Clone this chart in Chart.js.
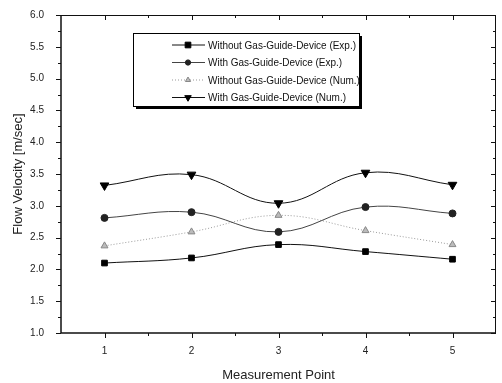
<!DOCTYPE html>
<html>
<head>
<meta charset="utf-8">
<script src="https://cdn.jsdelivr.net/npm/chart.js@4.4.1/dist/chart.umd.min.js"></script>
<style>
  html, body { margin: 0; padding: 0; background: #fff; }
  #wrap { width: 502px; height: 383px; position: relative; }
</style>
</head>
<body>
<div id="wrap"><canvas id="flow-chart" width="502" height="383"></canvas></div>
<script>
// --- data ---
const measurementPoints = [1, 2, 3, 4, 5];
const withoutGuideExp = [2.10, 2.18, 2.39, 2.28, 2.16];
const withGuideExp = [2.81, 2.90, 2.59, 2.98, 2.88];
const withoutGuideNum = [2.37, 2.59, 2.85, 2.61, 2.39];
const withGuideNum = [3.32, 3.49, 3.04, 3.52, 3.33];
const seriesLabels = [
  'Without Gas-Guide-Device (Exp.)',
  'With Gas-Guide-Device (Exp.)',
  'Without Gas-Guide-Device (Num.)',
  'With Gas-Guide-Device (Num.)'
];
const yTickLabels = ['1.0', '1.5', '2.0', '2.5', '3.0', '3.5', '4.0', '4.5', '5.0', '5.5', '6.0'];

const FONT = 'Liberation Sans, Arial, sans-serif';
const toPoints = vals => vals.map((v, i) => ({ x: measurementPoints[i], y: v }));

// frame + ticks in the Origin style (ticks in/out, minor ticks)
const frameTicks = {
  id: 'frameTicks',
  afterDraw(chart) {
    const ctx = chart.ctx;
    const { left, right, top, bottom } = chart.chartArea;
    const xs = chart.scales.x, ys = chart.scales.y;
    ctx.save();
    ctx.strokeStyle = '#111';
    ctx.lineWidth = 1;
    ctx.beginPath();
    // top + right frame
    ctx.moveTo(left, top + 0.5); ctx.lineTo(right, top + 0.5);
    ctx.moveTo(right - 0.5, top); ctx.lineTo(right - 0.5, bottom);
    ctx.stroke();
    ctx.lineWidth = 1.5;
    ctx.beginPath();
    ctx.moveTo(left, top); ctx.lineTo(left, bottom);
    ctx.moveTo(left, bottom); ctx.lineTo(right, bottom);
    ctx.stroke();
    ctx.lineWidth = 1;
    ctx.beginPath();
    for (let v = 1; v <= 6.001; v += 0.25) {
      const py = Math.round(ys.getPixelForValue(v)) + 0.5;
      const major = Math.abs(v * 2 - Math.round(v * 2)) < 1e-6;
      const len = major ? 5 : 3;
      ctx.moveTo(left - len, py); ctx.lineTo(left, py);
      ctx.moveTo(right - len, py); ctx.lineTo(right, py);
    }
    for (let v = 1; v <= 5.001; v += 0.5) {
      const px = Math.round(xs.getPixelForValue(v)) + 0.5;
      const major = Math.abs(v - Math.round(v)) < 1e-6;
      const len = major ? 5 : 3;
      ctx.moveTo(px, bottom); ctx.lineTo(px, bottom + len);
      ctx.moveTo(px, top); ctx.lineTo(px, top + len);
    }
    ctx.stroke();
    ctx.restore();
  }
};

// boxed legend with drop shadow inside the plot
const boxLegend = {
  id: 'boxLegend',
  afterDatasetsDraw(chart) {
    const ctx = chart.ctx;
    const bx = 133, by = 33, bw = 226, bh = 73;
    ctx.save();
    ctx.fillStyle = '#000';
    ctx.fillRect(bx + 3, by + 3, bw, bh);
    ctx.fillStyle = '#fff';
    ctx.fillRect(bx, by, bw, bh);
    ctx.strokeStyle = '#000';
    ctx.lineWidth = 1;
    ctx.strokeRect(bx + 0.5, by + 0.5, bw, bh);
    ctx.font = '11px ' + FONT;
    const squeeze = 148 / ctx.measureText(seriesLabels[0]).width;
    chart.data.datasets.forEach((ds, i) => {
      const rowY = 45 + i * 17.5;
      ctx.strokeStyle = ds.borderColor;
      ctx.lineWidth = ds.borderWidth;
      ctx.setLineDash(ds.borderDash || []);
      ctx.beginPath();
      ctx.moveTo(172, rowY); ctx.lineTo(205, rowY);
      ctx.stroke();
      ctx.setLineDash([]);
      ctx.fillStyle = ds.pointBackgroundColor;
      ctx.strokeStyle = ds.pointBorderColor;
      Chart.helpers.drawPoint(ctx, {
        pointStyle: ds.pointStyle,
        radius: ds.pointStyle === 'rect' ? 4 : ds.pointRadius * 0.75,
        rotation: ds.pointRotation || 0,
        borderWidth: 1
      }, 188, rowY);
      ctx.fillStyle = '#111';
      ctx.textBaseline = 'middle';
      const w = ctx.measureText(ds.label).width;
      ctx.fillText(ds.label, 208, rowY + 0.5, w * squeeze);
    });
    ctx.restore();
  }
};

const ctx = document.getElementById('flow-chart').getContext('2d');
new Chart(ctx, {
  type: 'line',
  data: {
    datasets: [
      {
        label: seriesLabels[0],
        data: toPoints(withoutGuideExp),
        borderColor: '#111', borderWidth: 1,
        pointStyle: 'rect', pointRadius: 4,
        pointBackgroundColor: '#000', pointBorderColor: '#000',
        tension: 0.4
      },
      {
        label: seriesLabels[1],
        data: toPoints(withGuideExp),
        borderColor: '#444', borderWidth: 1,
        pointStyle: 'circle', pointRadius: 3.5,
        pointBackgroundColor: '#222', pointBorderColor: '#222',
        tension: 0.4
      },
      {
        label: seriesLabels[2],
        data: toPoints(withoutGuideNum),
        borderColor: '#999', borderWidth: 1, borderDash: [1, 2],
        pointStyle: 'triangle', pointRadius: 4,
        pointBackgroundColor: '#bbb', pointBorderColor: '#888',
        tension: 0.4
      },
      {
        label: seriesLabels[3],
        data: toPoints(withGuideNum),
        borderColor: '#111', borderWidth: 1,
        pointStyle: 'triangle', pointRadius: 5, pointRotation: 180,
        pointBackgroundColor: '#000', pointBorderColor: '#000',
        tension: 0.4
      }
    ]
  },
  options: {
    responsive: false,
    animation: false,
    layout: { padding: { top: 14, right: 2, left: 0, bottom: 0 } },
    plugins: { legend: { display: false }, tooltip: { enabled: false } },
    scales: {
      x: {
        type: 'linear', min: 0.5, max: 5.5,
        afterBuildTicks: s => { s.ticks = measurementPoints.map(v => ({ value: v })); },
        afterFit: s => { s.height = 50; },
        grid: { display: false },
        border: { display: false },
        ticks: { color: '#222', font: { family: FONT, size: 10 }, padding: 4, maxRotation: 0 },
        title: {
          display: true, text: 'Measurement Point', color: '#222',
          font: { family: FONT, size: 13 }, padding: { top: 2, bottom: 0 }
        }
      },
      y: {
        type: 'linear', min: 1, max: 6,
        afterBuildTicks: s => { s.ticks = yTickLabels.map(t => ({ value: parseFloat(t) })); },
        afterFit: s => { s.width = 61; },
        grid: { display: false },
        border: { display: false },
        ticks: {
          color: '#222', font: { family: FONT, size: 10 }, padding: 9,
          callback: (v) => yTickLabels.find(t => parseFloat(t) === v) || ''
        },
        title: {
          display: true, text: 'Flow Velocity [m/sec]', color: '#222',
          font: { family: FONT, size: 13 }, padding: { top: 11, bottom: 4 }
        }
      }
    }
  },
  plugins: [frameTicks, boxLegend]
});
</script>
</body>
</html>
